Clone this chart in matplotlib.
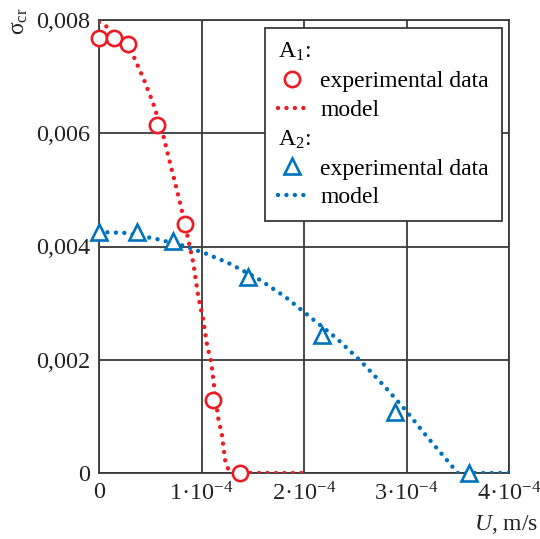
import matplotlib
matplotlib.use("Agg")
import matplotlib.pyplot as plt
from matplotlib.lines import Line2D

plt.rcParams['font.family'] = ['Liberation Serif', 'DejaVu Serif']
plt.rcParams['mathtext.fontset'] = 'custom'
plt.rcParams['mathtext.rm'] = 'Liberation Serif'
plt.rcParams['mathtext.it'] = 'Liberation Serif:italic'
plt.rcParams['mathtext.bf'] = 'Liberation Serif:bold'

# ---- data (U in m/s, sigma_cr) ----
a1_exp_u = [0.0, 0.147e-4, 0.283e-4, 0.567e-4, 0.84e-4, 1.114e-4, 1.378e-4]
a1_exp_s = [0.00768, 0.00768, 0.00757, 0.00614, 0.00440, 0.00129, 0.0]

a1_mod_u = [0.0, 0.088e-4, 0.2e-4, 0.342e-4, 0.44e-4, 0.528e-4, 0.626e-4, 0.684e-4,
            0.743e-4, 0.80e-4, 0.87e-4, 0.92e-4, 0.968e-4, 1.017e-4, 1.056e-4,
            1.095e-4, 1.124e-4, 1.163e-4, 1.20e-4, 1.23e-4, 1.27e-4, 1.30e-4, 2.0e-4]
a1_mod_s = [0.00796, 0.00787, 0.00765, 0.00734, 0.00694, 0.00653, 0.00597, 0.00554,
            0.00512, 0.00470, 0.00413, 0.00371, 0.00312, 0.00270, 0.00224,
            0.00196, 0.00152, 0.00097, 0.00067, 0.00023, 0.00002, 0.0, 0.0]

a2_exp_u = [0.0, 0.37e-4, 0.72e-4, 1.45e-4, 2.18e-4, 2.89e-4, 3.61e-4]
a2_exp_s = [0.00425, 0.00425, 0.00410, 0.00346, 0.00244, 0.00108, 0.0]

a2_mod_u = [0.0, 0.088e-4, 0.254e-4, 0.567e-4, 0.811e-4, 1.036e-4, 1.261e-4, 1.544e-4,
            1.818e-4, 2.063e-4, 2.317e-4, 2.551e-4, 2.776e-4, 2.991e-4, 3.196e-4,
            3.402e-4, 3.50e-4, 4.0e-4]
a2_mod_s = [0.00426, 0.00425, 0.00424, 0.00413, 0.00402, 0.00388, 0.00371, 0.00344,
            0.00311, 0.00275, 0.00238, 0.00198, 0.00155, 0.00111, 0.00065,
            0.00021, 0.0, 0.0]

x_ticks = [0, 1e-4, 2e-4, 3e-4, 4e-4]
x_ticklabels = ['0', '1·10$^{-4}$', '2·10$^{-4}$', '3·10$^{-4}$', '4·10$^{-4}$']
y_ticks = [0, 0.002, 0.004, 0.006, 0.008]
y_ticklabels = ['0', '0,002', '0,004', '0,006', '0,008']

RED = '#ec1c24'
BLUE = '#0072bc'
GRID = '#3a3a3a'

fig = plt.figure(figsize=(5.40, 5.39), dpi=100)
ax = fig.add_axes([99/540, 1-473/539, 410/540, 453/539])

dot = dict(linestyle=(0, (0.001, 1.9)), dash_capstyle='round', linewidth=3.2)

ax.plot(a1_mod_u, a1_mod_s, color=RED, zorder=3, **dot)
ax.plot(a2_mod_u, a2_mod_s, color=BLUE, zorder=3, **dot)
ax.plot(a1_exp_u, a1_exp_s, 'o', ms=11, mfc='white', mec=RED, mew=1.9, zorder=4, clip_on=False)
ax.plot(a2_exp_u, a2_exp_s, '^', ms=12, mfc='white', mec=BLUE, mew=1.9, zorder=4, clip_on=False)

ax.set_xlim(0, 4e-4)
ax.set_ylim(0, 0.008)
ax.set_xticks(x_ticks)
ax.set_xticklabels(x_ticklabels)
ax.set_yticks(y_ticks)
ax.set_yticklabels(y_ticklabels)
ax.tick_params(length=0, labelsize=17.5, colors='#222222', pad=6.5)
ax.grid(True, color=GRID, linewidth=1.3)
ax.set_axisbelow(True)
for s in ax.spines.values():
    s.set_color(GRID)
    s.set_linewidth(1.3)

blank = Line2D([], [], linestyle='none')
handles = [blank,
           Line2D([], [], linestyle='none', marker='o', ms=11, mfc='white', mec=RED, mew=1.9),
           Line2D([], [], color=RED, **dot),
           blank,
           Line2D([], [], linestyle='none', marker='^', ms=12, mfc='white', mec=BLUE, mew=1.9),
           Line2D([], [], color=BLUE, **dot)]
labels = ['A$_1$:', 'experimental data', 'model', 'A$_2$:', 'experimental data', 'model']
leg = ax.legend(handles, labels, loc='upper right', bbox_to_anchor=(0.983, 0.982),
                borderaxespad=0, fontsize=17, frameon=True, fancybox=False,
                edgecolor=GRID, framealpha=1, handlelength=1.2, handletextpad=0.59,
                labelspacing=0.31, borderpad=0.55, numpoints=1)
leg.get_frame().set_linewidth(1.3)
for i in (0, 3):
    t = leg.get_texts()[i]
    t.set_x(-42)

fig.text(20/540, 1-21/539, 'σ$_{\\rm cr}$', rotation=90, ha='center', va='center',
         fontsize=17, color='#222222')
fig.text(538/540, 1-524/539, '$\\it{U}$, m/s', ha='right', va='center',
         fontsize=17, color='#222222')

fig.savefig('out.png', dpi=100)
